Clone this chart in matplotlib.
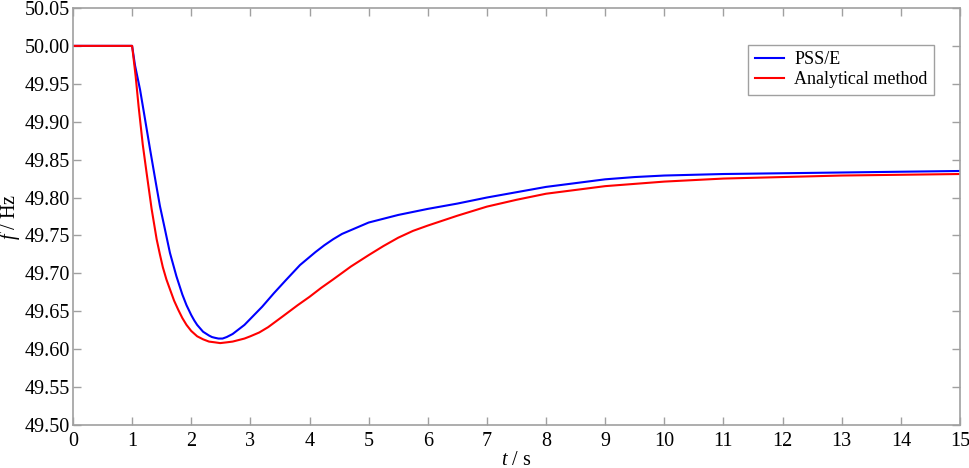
import numpy as np
import matplotlib
matplotlib.use("Agg")
import matplotlib.pyplot as plt

plt.rcParams['font.family'] = ['Liberation Serif', 'DejaVu Serif']
plt.rcParams['mathtext.fontset'] = 'custom'
plt.rcParams['mathtext.it'] = 'Liberation Serif:italic'
plt.rcParams['mathtext.rm'] = 'Liberation Serif'

# Courbe PSS/E
t_pss = [0, 1.0, 1.05, 1.135, 1.2, 1.305, 1.4, 1.47, 1.55, 1.64, 1.75, 1.85,
         1.92, 2.0, 2.05, 2.1, 2.2, 2.3, 2.35, 2.4, 2.46, 2.53, 2.6, 2.7, 2.8,
         2.9, 3.0, 3.2, 3.4, 3.6, 3.84, 4.1, 4.25, 4.4, 4.55, 4.7, 4.85, 5.0,
         5.25, 5.5, 6.0, 6.5, 7.0, 7.5, 8.0, 8.5, 9.0, 9.5, 10.0, 11.0, 12.0,
         13.0, 14.0, 15.0]
f_pss = [50.000, 50.000, 49.974, 49.942, 49.912, 49.863, 49.820, 49.789,
         49.760, 49.727, 49.696, 49.672, 49.658, 49.645, 49.638, 49.632,
         49.623, 49.618, 49.616, 49.615, 49.614, 49.614, 49.616, 49.620,
         49.626, 49.632, 49.640, 49.656, 49.674, 49.691, 49.711, 49.728,
         49.737, 49.745, 49.752, 49.757, 49.762, 49.767, 49.772, 49.777,
         49.785, 49.792, 49.800, 49.807, 49.814, 49.819, 49.824, 49.827,
         49.829, 49.831, 49.832, 49.833, 49.834, 49.835]

# Méthode analytique
t_ana = [0, 1.0, 1.06, 1.11, 1.18, 1.246, 1.33, 1.415, 1.47, 1.52, 1.58,
         1.64, 1.71, 1.78, 1.85, 1.92, 2.0, 2.1, 2.2, 2.3, 2.4, 2.49, 2.6,
         2.7, 2.8, 2.9, 3.0, 3.15, 3.3, 3.56, 3.8, 4.0, 4.2, 4.4, 4.7, 5.0,
         5.25, 5.5, 5.75, 6.0, 6.5, 7.0, 7.5, 8.0, 8.5, 9.0, 9.5, 10.0, 11.0,
         12.0, 13.0, 14.0, 15.0]
f_ana = [50.000, 50.000, 49.960, 49.920, 49.870, 49.832, 49.785, 49.745,
         49.725, 49.708, 49.692, 49.679, 49.664, 49.652, 49.641, 49.632,
         49.624, 49.617, 49.613, 49.610, 49.609, 49.608, 49.609, 49.610,
         49.612, 49.614, 49.617, 49.622, 49.629, 49.644, 49.658, 49.669,
         49.681, 49.692, 49.709, 49.724, 49.736, 49.747, 49.756, 49.763,
         49.776, 49.788, 49.797, 49.805, 49.810, 49.815, 49.818, 49.821,
         49.825, 49.827, 49.829, 49.830, 49.831]

x_ticks = np.arange(0, 16, 1)
y_ticks = np.arange(49.50, 50.051, 0.05)

fig = plt.figure(figsize=(9.69, 4.68), dpi=100)
ax = fig.add_axes([0.0753, 0.0919, 0.9154, 0.8911])

ax.plot(t_pss, f_pss, color='#0000ff', lw=1.5, label='PSS/E')
ax.plot(t_ana, f_ana, color='#ff0000', lw=1.5, label='Analytical method')

ax.set_xlim(0, 15)
ax.set_ylim(49.50, 50.05)
ax.set_xticks(x_ticks)
ax.set_yticks(y_ticks)
ax.set_yticklabels([f"{v:.2f}" for v in y_ticks])

gris = '#a0a0a0'
for s in ax.spines.values():
    s.set_color(gris)
    s.set_linewidth(1.2)
ax.tick_params(direction='in', length=6, width=1, color=gris,
               top=True, right=True, labelsize=14.5)
ax.tick_params(axis='x', pad=5)
ax.tick_params(axis='y', pad=2)

ax.set_xlabel(r'$t$ / s', fontsize=14.5, labelpad=0)
ax.set_ylabel(r'$f$ / Hz', fontsize=14.5)
ax.yaxis.set_label_coords(-0.057, 0.5)

leg = ax.legend(loc='upper right', bbox_to_anchor=(0.981, 0.934),
                fontsize=13, fancybox=False, framealpha=1,
                edgecolor=gris, handlelength=1.6, borderpad=0.35,
                labelspacing=0.2, handletextpad=0.6)
leg.get_frame().set_linewidth(1.0)

plt.savefig('out.png', dpi=100)
